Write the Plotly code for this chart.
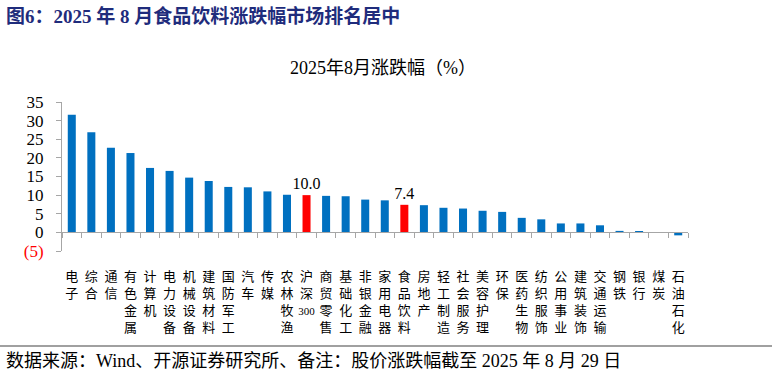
import plotly.graph_objects as go

# ---------------- data ----------------
categories = ["电子", "综合", "通信", "有色金属", "计算机", "电力设备", "机械设备", "建筑材料",
              "国防军工", "汽车", "传媒", "农林牧渔", "沪深300", "商贸零售", "基础化工", "非银金融",
              "家用电器", "食品饮料", "房地产", "轻工制造", "社会服务", "美容护理", "环保", "医药生物",
              "纺织服饰", "公用事业", "建筑装饰", "交通运输", "钢铁", "银行", "煤炭", "石油石化"]
values = [31.6, 26.9, 22.7, 21.3, 17.3, 16.5, 14.7, 13.8,
          12.2, 12.1, 11.0, 10.1, 10.0, 9.8, 9.7, 8.8,
          8.6, 7.4, 7.3, 6.6, 6.4, 5.8, 5.5, 3.9,
          3.5, 2.4, 2.4, 1.9, 0.4, 0.2, -0.1, -0.8]
highlight = ["沪深300", "食品饮料"]
y_tick_vals = [-5, 0, 5, 10, 15, 20, 25, 30, 35]
y_tick_text = ["<span style='color:#FF0000'>(5)</span>", "0", "5", "10", "15", "20", "25", "30", "35"]

title_text = "图6：2025 年 8 月食品饮料涨跌幅市场排名居中"
chart_title = "2025年8月涨跌幅（%）"
source_text = "数据来源：Wind、开源证券研究所、备注：股价涨跌幅截至 2025 年 8 月 29 日"

# ---------------- layout geometry ----------------
W, H = 774, 377
L, R, T, B = 62, 86, 102, 126
PW, PH = W - L - R, H - T - B


def px_x(p):
    return (p - L) / PW


def px_y(p):
    return (H - B - p) / PH


SERIF = "Liberation Serif, Noto Sans CJK SC, serif"
CJK = "Noto Sans CJK SC, Liberation Serif, sans-serif"


def stack(label):
    if label == "沪深300":
        return "沪<br>深<br><span style='font-family:Liberation Serif;font-size:11px'>300</span>"
    return "<br>".join(list(label))


tick_text = [stack(c) for c in categories]
bar_colors = ["#FF0000" if c in highlight else "#0070C0" for c in categories]
bar_text = [f"{v:.1f}" if c in highlight else "" for c, v in zip(categories, values)]
x_range = [-0.5, len(categories) - 0.5]

fig = go.Figure()
fig.add_trace(go.Bar(
    x=categories, y=values,
    marker=dict(color=bar_colors, line=dict(width=0)),
    text=bar_text, textposition="outside", constraintext="none",
    textfont=dict(family=SERIF, size=16, color="#000000"),
    cliponaxis=False, showlegend=False, hoverinfo="x+y",
))
# helper trace on the axis drawn through zero (tick marks between categories)
fig.add_trace(go.Scatter(
    x=categories, y=values, xaxis="x2", mode="markers",
    marker=dict(opacity=0, size=1), showlegend=False, hoverinfo="skip",
))

fig.update_layout(
    width=W, height=H,
    margin=dict(l=L, r=R, t=T, b=B, pad=0),
    paper_bgcolor="white", plot_bgcolor="white",
    bargap=0.59,
    xaxis=dict(
        type="category", categoryorder="array", categoryarray=categories,
        range=x_range, autorange=False, automargin=False,
        tickvals=categories, ticktext=tick_text,
        showline=False, ticks="", showgrid=False, zeroline=False,
        tickfont=dict(family=CJK, size=13, color="#000000"),
        ticklabelstandoff=16, tickangle=0,
    ),
    xaxis2=dict(
        type="category", overlaying="x", matches="x", anchor="free", position=px_y(232.3),
        categoryorder="array", categoryarray=categories,
        range=x_range, autorange=False, automargin=False,
        side="bottom", showline=True, linecolor="#A6A6A6", linewidth=1,
        ticks="outside", tickson="boundaries", ticklen=5, tickcolor="#A6A6A6",
        showticklabels=False, showgrid=False, zeroline=False,
    ),
    yaxis=dict(
        range=[-5, 35], autorange=False, automargin=False,
        tickvals=y_tick_vals, ticktext=y_tick_text,
        showline=True, linecolor="#A6A6A6", linewidth=1,
        ticks="outside", ticklen=5, tickcolor="#A6A6A6",
        showgrid=False, zeroline=False,
        tickfont=dict(family=SERIF, size=17, color="#000000"),
        ticklabelstandoff=9,
    ),
    annotations=[
        dict(text=f"<b>{title_text}</b>", xref="paper", yref="paper",
             x=px_x(4), y=px_y(16), xanchor="left", yanchor="middle", showarrow=False,
             font=dict(family=SERIF, size=19, color="#1F2C7C")),
        dict(text=chart_title, xref="paper", yref="paper",
             x=px_x(383), y=px_y(68), xanchor="center", yanchor="middle", showarrow=False,
             font=dict(family=SERIF, size=18, color="#000000")),
        dict(text=source_text, xref="paper", yref="paper",
             x=px_x(4), y=px_y(361), xanchor="left", yanchor="middle", showarrow=False,
             font=dict(family=SERIF, size=18, color="#000000")),
    ],
    shapes=[
        dict(type="line", xref="paper", yref="paper",
             x0=px_x(0), x1=px_x(772), y0=px_y(346), y1=px_y(346),
             line=dict(color="#808080", width=1.5)),
    ],
)

fig.write_html(
    "out.html",
    config={"displayModeBar": False},
    post_script="document.body.style.margin='0';document.body.style.overflow='hidden';",
)
